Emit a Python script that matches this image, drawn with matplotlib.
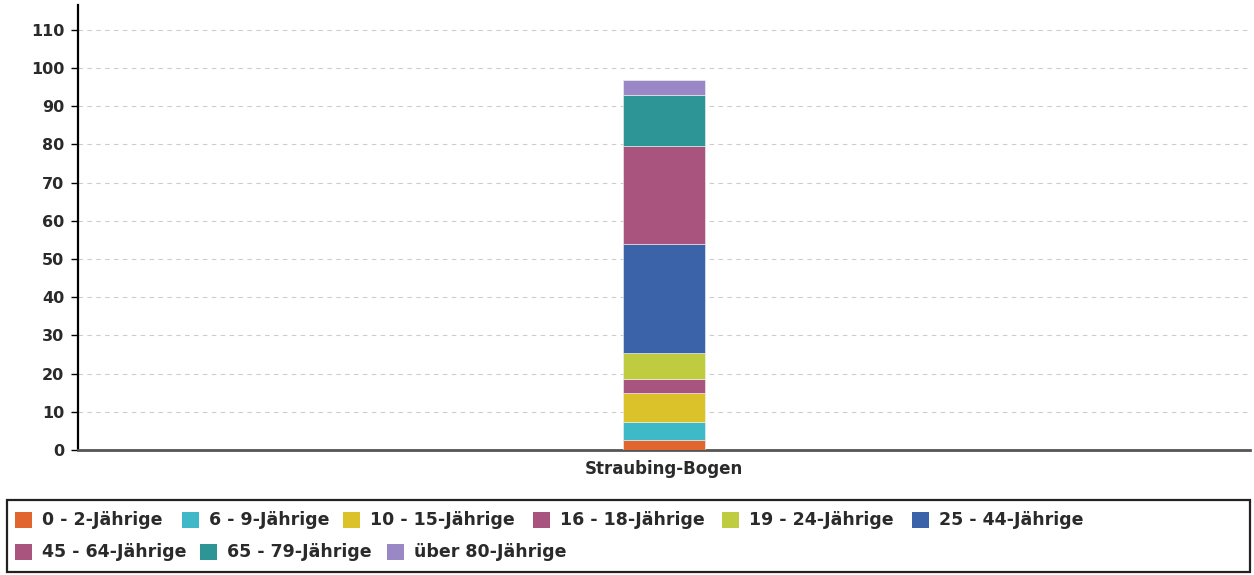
#!/usr/bin/env python3
"""Stacked age-group bar for Straubing-Bogen."""

import matplotlib

matplotlib.use("Agg")
import matplotlib.pyplot as plt
from matplotlib.patches import Rectangle

categories = ["Straubing-Bogen"]
age_groups = [
    "0 - 2-Jährige",
    "6 - 9-Jährige",
    "10 - 15-Jährige",
    "16 - 18-Jährige",
    "19 - 24-Jährige",
    "25 - 44-Jährige",
    "45 - 64-Jährige",
    "65 - 79-Jährige",
    "über 80-Jährige",
]
values = [2.6, 4.7, 7.6, 3.7, 6.8, 28.6, 25.6, 13.4, 3.9]
colors = [
    "#E0652F",
    "#3FB8C8",
    "#DCC22A",
    "#A9537F",
    "#BFCC3F",
    "#3B63A9",
    "#A9537F",
    "#2E9597",
    "#9A88C6",
]
yticks = list(range(0, 111, 10))

W, H = 1254, 575
fig = plt.figure(figsize=(W / 100, H / 100), dpi=100)
ax = fig.add_axes([78 / W, 1 - 450 / H, (1250 - 78) / W, (450 - 5) / H])

bottom = 0.0
for label, val, col in zip(age_groups, values, colors):
    ax.bar(categories, [val], bottom=bottom, width=0.07, color=col,
           edgecolor="#f4f4f4", linewidth=0.4, label=label, zorder=3)
    bottom += val

ax.set_xlim(-0.5, 0.5)
ax.set_ylim(0, 116.5)
ax.set_yticks(yticks)
ax.yaxis.grid(True, linestyle=(0, (4, 4)), color="#cccccc", linewidth=0.8)
ax.set_axisbelow(True)
for side in ("top", "right"):
    ax.spines[side].set_visible(False)
ax.spines["left"].set_linewidth(1.6)
ax.spines["bottom"].set_linewidth(2.0)
ax.spines["bottom"].set_color("#555555")
ax.spines["bottom"].set_linestyle((0, (3, 1)))
ax.tick_params(axis="y", length=5, width=1, labelsize=11.5, pad=5)
ax.tick_params(axis="x", length=0, labelsize=12, pad=7)
for t in ax.get_yticklabels() + ax.get_xticklabels():
    t.set_color("#2a2a2a")
    t.set_fontweight("bold")

# legend box with items at the reference positions
fig.add_artist(Rectangle((7 / W, 1 - 572 / H), (1250 - 7) / W, (572 - 500) / H,
                         transform=fig.transFigure, fill=False,
                         edgecolor="#222222", linewidth=1.6))
item_x = [15, 182, 343, 533, 722, 912, 15, 200, 387]
item_y = [520] * 6 + [552] * 3
for name, col, x, yp in zip(age_groups, colors, item_x, item_y):
    fig.add_artist(Rectangle((x / W, 1 - (yp + 8) / H), 17 / W, 16 / H,
                             transform=fig.transFigure,
                             facecolor=col, edgecolor="none"))
    fig.text((x + 27) / W, 1 - yp / H, name, fontsize=12.5, fontweight="bold",
             color="#2a2a2a", va="center")

fig.savefig("out.png", dpi=100)
